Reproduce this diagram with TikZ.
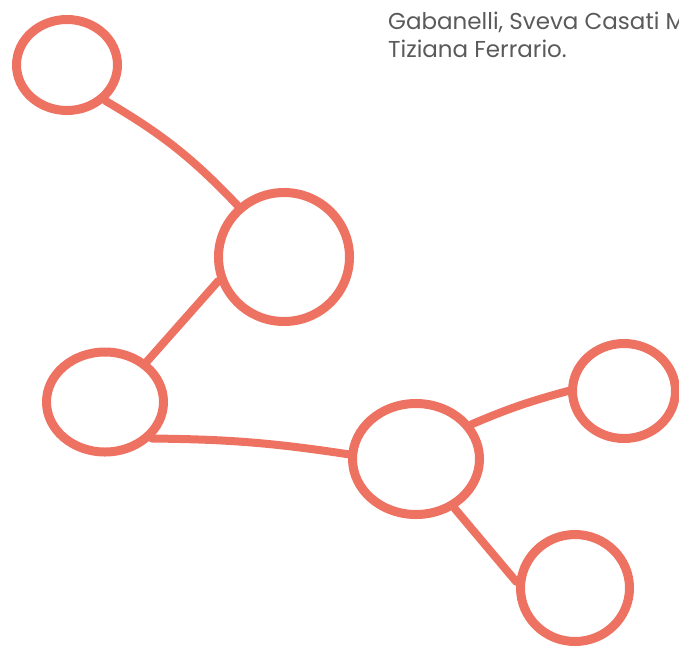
\documentclass[tikz,border=0pt]{standalone}
\usepackage{fontspec}
\setmainfont{Poppins}
\usetikzlibrary{shapes.geometric}
\definecolor{salmon}{HTML}{EE7262}
\definecolor{txtgray}{HTML}{5A5A5C}
\begin{document}
\begin{tikzpicture}[x=1pt,y=-1pt,
  blob/.style={draw=salmon,line width=9pt,ellipse,inner sep=0pt},
  link/.style={draw=salmon,line width=8pt,line cap=round},
  caption/.style={text=txtgray,font=\fontsize{23}{27.7}\selectfont,anchor=base west,inner sep=0pt}]
\useasboundingbox (0,0) rectangle (679,651);
\node[blob,minimum width=101pt,minimum height=91pt] (c1) at (67,65) {};
\node[blob,minimum width=131pt,minimum height=129pt] (c2) at (284,257) {};
\node[blob,minimum width=117pt,minimum height=100pt] (c3) at (105,402) {};
\node[blob,minimum width=127pt,minimum height=111pt] (c4) at (416,459) {};
\node[blob,minimum width=103pt,minimum height=95pt] (c5) at (624,391) {};
\node[blob,minimum width=109pt,minimum height=107pt] (c6) at (575,588) {};
\draw[link] (c1.317) to[bend left=8] (c2.132);
\draw[link] (c2.200) -- (c3.44);
\draw[link] (c3.322) to[bend left=4] (c4.176);
\draw[link] (c4.32) to[bend left=4] (c5.180);
\draw[link] (c4.308) -- (c6.174);
\node[caption] (t1) at (388,29) {Gabanelli, Sveva Casati Mo};
\node[caption] (t2) at (388,57) {Tiziana Ferrario.};
\end{tikzpicture}
\end{document}
